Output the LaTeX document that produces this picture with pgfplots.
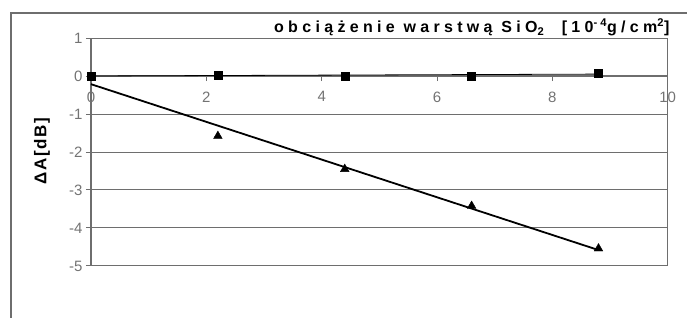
\documentclass[border=0pt]{standalone}
\usepackage{pgfplots}
\pgfplotsset{compat=1.18}
\usepackage{fontspec}
\setmainfont{Liberation Sans}
\definecolor{axgray}{RGB}{110,110,110}
\definecolor{txtgray}{RGB}{115,115,115}
\begin{document}
\begin{tikzpicture}
\begin{scope}
\clip (-91pt,-52pt) rectangle (596pt,266pt);
\draw[axgray, line width=1.2pt] (-80pt,-80pt) -- (-80pt,253pt) -- (620pt,253pt);
\end{scope}
\begin{axis}[
  at={(0pt,0pt)}, anchor=south west,
  scale only axis, width=576.7pt, height=228pt,
  xmin=0, xmax=10, ymin=-5, ymax=1,
  axis x line*=middle, axis y line*=left,
  hide obscured x ticks=false,
  xtick={0,2,...,10}, ytick={-5,-4,...,1},
  ymajorgrids, grid style={axgray, line width=1pt},
  axis line style={axgray, line width=1.2pt},
  tick style={axgray, line width=1pt},
  major tick length=5pt, tick align=outside,
  /pgf/number format/assume math mode=true,
  ticklabel style={text=txtgray, font=\fontsize{15}{15}\selectfont},
  x tick label style={yshift=-7pt},
  clip=false,
]
\draw[axgray, line width=1pt] (rel axis cs:1,0) -- (rel axis cs:1,1);
\addplot[black, line width=0.8pt] coordinates {(0,0.0) (8.8,0.05)};
\addplot[black, line width=1.8pt] coordinates {(0,-0.215) (8.8,-4.58)};
\addplot[only marks, mark=square*, mark size=4pt, black] coordinates {
(0,0) (2.2,0.03) (4.4,0) (6.6,0) (8.8,0.08)};
\addplot[only marks, mark=triangle*, mark size=5pt, black] coordinates {
(2.2,-1.58) (4.4,-2.45) (6.6,-3.42) (8.8,-4.54)};
\end{axis}
\node[rotate=90, font=\bfseries\fontsize{17}{17}\selectfont\addfontfeature{LetterSpace=10}] at (-49pt,115pt) {ΔA[dB]};
\node[anchor=base east, font=\bfseries\fontsize{16}{16}\selectfont\addfontfeature{LetterSpace=27}] at (582pt,233pt)
 {obciążenie warstwą SiO\textsubscript{2}\ \ [10\textsuperscript{-4}g/cm\textsuperscript{2}]};
\pgfresetboundingbox
\useasboundingbox (-91pt,-52pt) rectangle (596pt,266pt);
\end{tikzpicture}
\end{document}
